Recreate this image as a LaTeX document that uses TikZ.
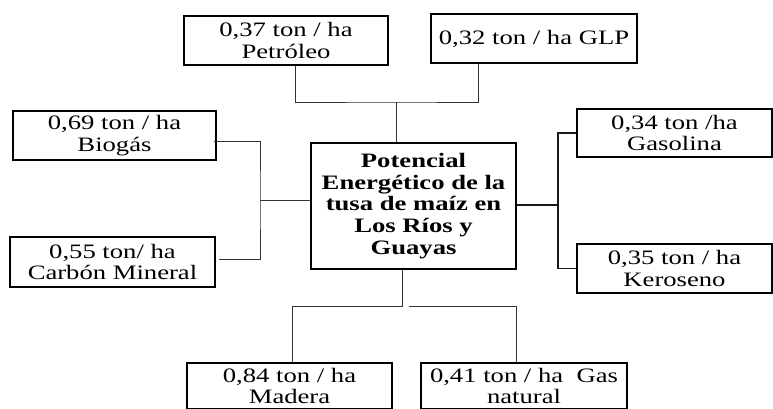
\documentclass[tikz,border=0pt]{standalone}
\usepackage{fontspec}
\setmainfont{Liberation Serif}[FakeStretch=1.3]
\tikzstyle{boxn}=[draw,line width=1.7pt,align=center,inner sep=0pt,font=\fontsize{20.5}{21.5}\selectfont,minimum height=49pt]
\tikzstyle{boxc}=[draw,line width=2.5pt,align=center,inner sep=0pt,font=\fontsize{20.5}{21.7}\selectfont\bfseries,minimum width=205pt,minimum height=126pt]
\tikzstyle{linkn}=[line width=0.9pt,draw=black!80]
\tikzstyle{linkt}=[line width=2.2pt,draw=black!90]

\begin{document}
\begin{tikzpicture}[x=1pt,y=-1pt]
    \useasboundingbox (0,0) rectangle (773,408);
    \node[boxc] (ctr) at (413.5,206) {Potencial\\Energético de la\\tusa de maíz en\\Los Ríos y\\Guayas};
    \node[boxn,minimum width=204pt] (pet) at (286,40.5) {0,37 ton / ha\\Petróleo};
    \node[boxn,minimum width=206pt] (glp) at (534,38.5) {0,32 ton / ha GLP};
    \node[boxn,minimum width=203pt] (bio) at (114.5,135.5) {0,69 ton / ha\\Biogás};
    \node[boxn,minimum width=205pt,minimum height=50pt] (car) at (112.5,262) {0,55 ton/ ha\\Carbón Mineral};
    \node[boxn,minimum width=195pt,minimum height=48pt] (gas) at (674.5,133) {0,34 ton /ha\\Gasolina};
    \node[boxn,minimum width=195pt] (ker) at (674.5,268.5) {0,35 ton / ha\\Keroseno};
    \node[boxn,minimum width=205pt,minimum height=46pt] (mad) at (289.5,386) {0,84 ton / ha\\Madera};
    \node[boxn,minimum width=206pt,minimum height=46pt] (nat) at (524,386) {0,41 ton / ha\ \ Gas\\natural};

    % junctions
    \coordinate (jt) at (396,102);
    \coordinate (jl) at (260,200);
    \coordinate (jr) at (558,205);
    \coordinate (jb) at (402,306);

    \draw[linkn] ([xshift=9pt]pet.south) |- (jt) -| ([xshift=-56pt]glp.south);
    \draw[linkn] (jt) -- (jt |- ctr.north);
    \draw[linkn] ([yshift=-5.5pt,xshift=-3pt]bio.east) -| (jl) |- ([yshift=3pt,xshift=3pt]car.east);
    \draw[linkn] (jl) -- (jl -| ctr.west);
    \draw[linkt] (ctr.east |- jr) -- (jr);
    \draw[linkt,line width=1.6pt] (gas.west) -| (jr) |- (ker.west);
    \draw[linkn] (ctr.south -| jb) -- (jb) -| ([xshift=2.5pt]mad.north);
    \draw[linkn] ([xshift=7pt]jb) -| ([xshift=-8pt]nat.north);
\end{tikzpicture}
\end{document}
